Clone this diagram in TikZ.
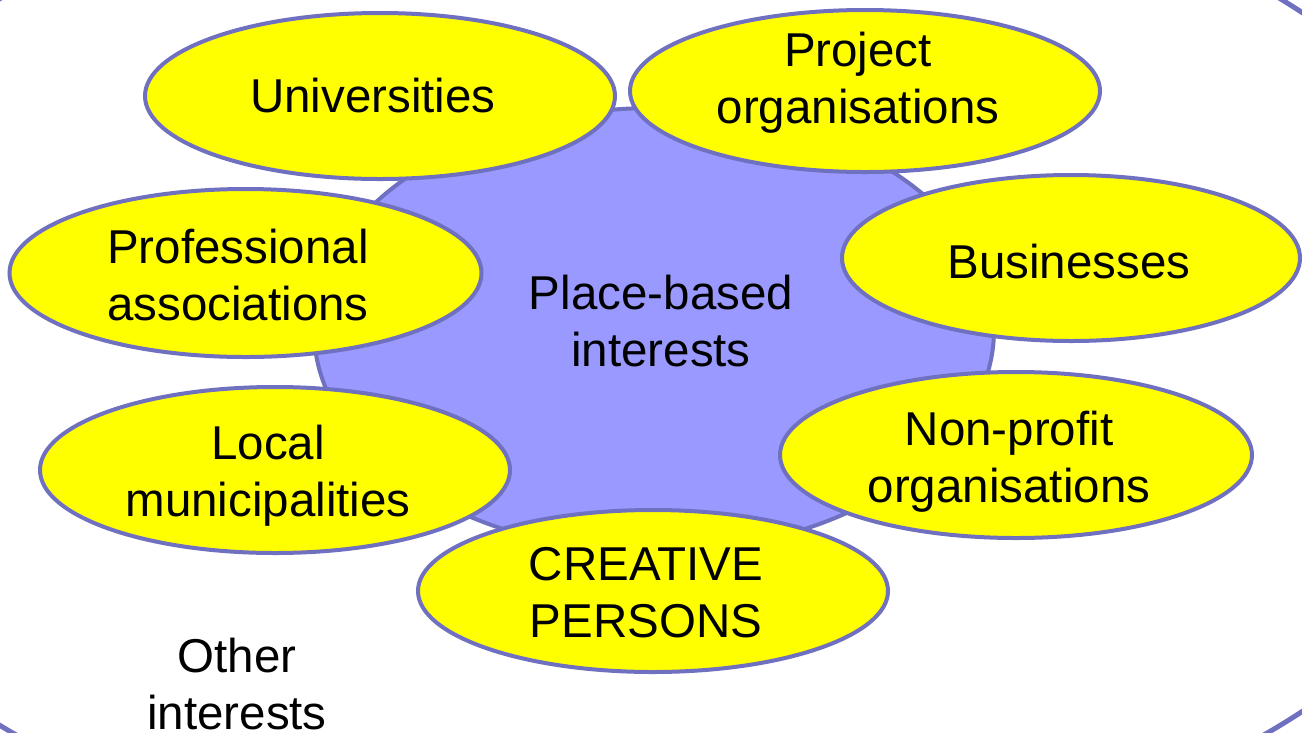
\documentclass[tikz,border=0pt]{standalone}
\usepackage{fontspec}
\setmainfont{Liberation Sans}
\usetikzlibrary{shapes.geometric}
\definecolor{edgeblue}{RGB}{112,112,192}
\definecolor{lilac}{RGB}{153,153,255}
\definecolor{yel}{RGB}{255,255,0}
\tikzset{
  blob/.style={ellipse, draw=edgeblue, line width=4pt, fill=yel, inner sep=0pt,
    minimum width=470pt, minimum height=166pt},
  lbl/.style={align=center, inner sep=0pt, font=\fontsize{47.5}{57}\selectfont, text=black},
}
\begin{document}
\begin{tikzpicture}[x=1pt,y=-1pt]
\useasboundingbox (0,0) rectangle (1302,732);
\clip (0,0) rectangle (1302,732);
\fill[white] (0,0) rectangle (1302,732);
% outer ellipse
\node[ellipse, draw=edgeblue, line width=5pt, minimum width=1780pt, minimum height=1046pt, inner sep=0pt] (outer) at (640,362) {};
% central ellipse
\node[ellipse, draw=edgeblue, line width=4pt, fill=lilac, minimum width=680pt, minimum height=444pt, inner sep=0pt] (core) at (654,330) {};
\node[lbl] (coret) at (661,321) {Place-based\\interests};
% satellites
\node[blob] (uni) at (380,96) {};
\node[lbl] (unit) at ([xshift=-7pt]uni.center) {Universities};
\node[blob, minimum height=162pt] (proj) at (865,91) {};
\node[lbl] (projt) at (858,83) {Project\\organisations};
\node[blob, minimum width=472pt, minimum height=168pt] (prof) at (245.5,273) {};
\node[lbl] (proft) at (238,275) {Professional\\associations};
\node[blob, minimum width=458pt] (bus) at (1071,258) {};
\node[lbl] (bust) at (1069,262) {Businesses};
\node[blob] (loc) at (275,470) {};
\node[lbl] (loct) at (268,476) {Local\\municipalities};
\node[blob, minimum width=472pt] (npo) at (1016,455) {};
\node[lbl] (npot) at (1009,462) {Non-profit\\organisations};
\node[blob, minimum height=162pt] (cre) at (653,591) {};
\node[lbl] (cret) at (646,593) {CREATIVE\\PERSONS};
% other interests
\node[lbl] (other) at (237,684) {Other\\interests};
\end{tikzpicture}
\end{document}
